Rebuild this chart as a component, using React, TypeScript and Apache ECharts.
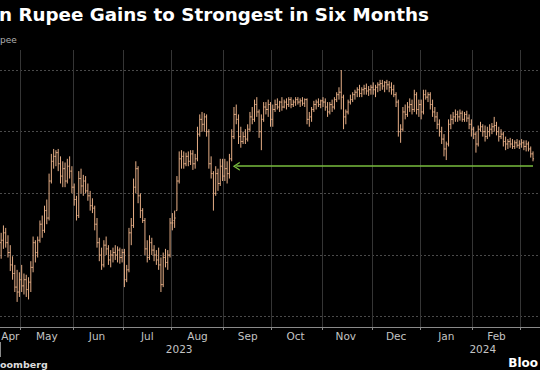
import React, { useEffect, useRef } from 'react';
import * as echarts from 'echarts';

// ---------- data ----------
const monthNames = ['Jan', 'Feb', 'Mar', 'Apr', 'May', 'Jun', 'Jul', 'Aug', 'Sep', 'Oct', 'Nov', 'Dec'];

// trading days shown per month
const aprDays = [18, 19, 20, 21, 24, 25, 26, 27, 28];
const mayDays = [1, 2, 3, 4, 5, 8, 9, 10, 11, 12, 15, 16, 17, 18, 19, 22, 23, 24, 25, 26, 29, 30, 31];
const junDays = [1, 2, 5, 6, 7, 8, 9, 12, 13, 14, 15, 16, 19, 20, 21, 22, 23, 26, 27, 28, 29, 30];
const julDays = [3, 4, 5, 6, 7, 10, 11, 12, 13, 14, 17, 18, 19, 20, 21, 24, 25, 26, 27, 28, 31];
const augDays = [1, 2, 3, 4, 7, 8, 9, 10, 11, 14, 15, 16, 17, 18, 21, 22, 23, 24, 25, 28, 29, 30, 31];
const sepDays = [1, 4, 5, 6, 7, 8, 11, 12, 13, 14, 15, 18, 19, 20, 21, 22, 25, 26, 27, 28, 29];
const octDays = [2, 3, 4, 5, 6, 9, 10, 11, 12, 13, 16, 17, 18, 19, 20, 23, 24, 25, 26, 27, 30, 31];
const novDays = [1, 2, 3, 6, 7, 8, 9, 10, 13, 14, 15, 16, 17, 20, 21, 22, 23, 24, 27, 28, 29, 30];
const decDays = [1, 4, 5, 6, 7, 8, 11, 12, 13, 14, 15, 18, 19, 20, 21, 22, 25, 26, 27, 28, 29];
const janDays = [1, 2, 3, 4, 5, 8, 9, 10, 11, 12, 15, 16, 17, 18, 19, 22, 23, 24, 25, 26, 29, 30, 31];
const febDays = [1, 2, 5, 6, 7, 8, 9, 12, 13, 14, 15, 16, 19, 20, 21, 22, 23, 26, 27, 28, 29];
const marDays = [1, 4, 5, 6, 7, 8, 11, 12, 13];

// USD/INR daily bars: [open, high, low, close]
const aprBars = [
  [82.10, 82.18, 81.97, 82.12], [82.12, 82.24, 82.05, 82.18], [82.18, 82.22, 82.06, 82.10],
  [82.10, 82.16, 81.98, 82.02], [82.02, 82.08, 81.87, 81.92], [81.92, 81.99, 81.80, 81.85],
  [81.85, 81.92, 81.70, 81.74], [81.74, 81.88, 81.62, 81.70], [81.70, 81.86, 81.66, 81.80],
];
const mayBars = [
  [81.80, 81.92, 81.70, 81.75], [81.75, 81.85, 81.68, 81.80], [81.80, 81.84, 81.66, 81.72],
  [81.72, 81.82, 81.64, 81.78], [81.78, 81.95, 81.70, 81.90], [81.90, 82.15, 81.86, 82.10],
  [82.10, 82.12, 81.94, 82.02], [82.02, 82.15, 81.98, 82.12], [82.12, 82.28, 82.10, 82.25],
  [82.25, 82.32, 82.14, 82.20], [82.20, 82.40, 82.18, 82.36], [82.36, 82.45, 82.25, 82.30],
  [82.30, 82.66, 82.28, 82.60], [82.60, 82.82, 82.58, 82.76], [82.76, 82.86, 82.70, 82.80],
  [82.80, 82.85, 82.72, 82.83], [82.83, 82.86, 82.68, 82.74], [82.74, 82.80, 82.58, 82.64],
  [82.64, 82.76, 82.55, 82.70], [82.70, 82.75, 82.55, 82.60], [82.60, 82.78, 82.58, 82.72],
  [82.72, 82.80, 82.62, 82.68], [82.68, 82.72, 82.50, 82.55],
];
const junBars = [
  [82.55, 82.58, 82.40, 82.45], [82.45, 82.48, 82.28, 82.32], [82.32, 82.68, 82.30, 82.62],
  [82.62, 82.70, 82.50, 82.56], [82.56, 82.65, 82.48, 82.60], [82.60, 82.64, 82.50, 82.52],
  [82.52, 82.58, 82.44, 82.48], [82.48, 82.52, 82.36, 82.40], [82.40, 82.46, 82.34, 82.38],
  [82.38, 82.40, 82.20, 82.25], [82.25, 82.30, 82.06, 82.10], [82.10, 82.14, 81.95, 82.00],
  [82.00, 82.06, 81.88, 81.92], [81.92, 82.12, 81.90, 82.08], [82.08, 82.15, 82.00, 82.05],
  [82.05, 82.08, 81.92, 81.96], [81.96, 82.04, 81.90, 82.00], [82.00, 82.06, 81.94, 82.02],
  [82.02, 82.08, 81.96, 82.00], [82.00, 82.07, 81.94, 82.04], [82.04, 82.06, 81.93, 81.98],
  [81.98, 82.05, 81.94, 82.02],
];
const julBars = [
  [82.02, 82.05, 81.74, 81.80], [81.80, 81.92, 81.78, 81.88], [81.88, 82.22, 81.86, 82.18],
  [82.18, 82.30, 82.08, 82.24], [82.24, 82.62, 82.22, 82.55], [82.55, 82.76, 82.50, 82.70],
  [82.70, 82.72, 82.42, 82.48], [82.48, 82.50, 82.30, 82.36], [82.36, 82.38, 82.26, 82.28],
  [82.28, 82.30, 82.00, 82.05], [82.05, 82.12, 81.94, 81.98], [81.98, 82.16, 81.96, 82.10],
  [82.10, 82.14, 82.00, 82.04], [82.04, 82.08, 81.95, 82.00], [82.00, 82.04, 81.92, 81.96],
  [81.96, 82.06, 81.88, 81.92], [81.92, 81.98, 81.70, 81.76], [81.76, 82.02, 81.74, 81.98],
  [81.98, 82.05, 81.90, 81.94], [81.94, 82.04, 81.88, 82.00], [82.00, 82.30, 81.98, 82.26],
];
const augBars = [
  [82.26, 82.34, 82.20, 82.26], [82.28, 82.36, 82.22, 82.30], [82.36, 82.64, 82.36, 82.60],
  [82.60, 82.84, 82.58, 82.78], [82.78, 82.85, 82.70, 82.80], [82.80, 82.84, 82.70, 82.74],
  [82.74, 82.83, 82.72, 82.80], [82.80, 82.84, 82.72, 82.76], [82.76, 82.85, 82.73, 82.82],
  [82.82, 82.85, 82.69, 82.74], [82.74, 82.82, 82.70, 82.78], [82.78, 83.04, 82.76, 82.98],
  [82.98, 83.14, 82.96, 83.10], [83.10, 83.16, 83.00, 83.06], [83.06, 83.15, 83.00, 83.12],
  [83.12, 83.14, 82.96, 83.00], [83.00, 83.02, 82.70, 82.74], [82.74, 82.80, 82.62, 82.66],
  [82.66, 82.68, 82.36, 82.50], [82.50, 82.72, 82.48, 82.66], [82.66, 82.70, 82.52, 82.58],
  [82.58, 82.78, 82.56, 82.72], [82.72, 82.78, 82.60, 82.64],
];
const sepBars = [
  [82.64, 82.78, 82.60, 82.70], [82.70, 82.76, 82.58, 82.66], [82.66, 82.82, 82.62, 82.78],
  [82.78, 83.02, 82.76, 82.96], [82.96, 83.20, 82.94, 83.14], [83.14, 83.22, 83.06, 83.10],
  [83.10, 83.14, 82.90, 82.96], [82.96, 83.04, 82.87, 82.92], [82.92, 83.00, 82.90, 82.96],
  [82.96, 83.02, 82.90, 82.94], [82.94, 83.06, 82.92, 83.02], [83.02, 83.16, 83.00, 83.12],
  [83.12, 83.20, 83.06, 83.10], [83.10, 83.26, 83.08, 83.22], [83.22, 83.28, 83.12, 83.16],
  [83.16, 83.18, 82.95, 83.00], [83.00, 83.14, 82.85, 83.10], [83.10, 83.24, 83.08, 83.20],
  [83.20, 83.24, 83.14, 83.18], [83.18, 83.26, 83.12, 83.22], [83.22, 83.24, 83.04, 83.10],
];
const octBars = [
  [83.10, 83.22, 83.04, 83.18], [83.18, 83.26, 83.16, 83.22], [83.22, 83.27, 83.18, 83.20],
  [83.20, 83.25, 83.16, 83.24], [83.24, 83.28, 83.17, 83.20], [83.20, 83.26, 83.19, 83.24],
  [83.24, 83.27, 83.18, 83.22], [83.22, 83.28, 83.20, 83.26], [83.26, 83.28, 83.19, 83.22],
  [83.22, 83.26, 83.20, 83.24], [83.24, 83.28, 83.21, 83.26], [83.26, 83.28, 83.22, 83.24],
  [83.24, 83.27, 83.20, 83.25], [83.25, 83.28, 83.21, 83.23], [83.23, 83.27, 83.20, 83.26],
  [83.26, 83.27, 83.06, 83.10], [83.10, 83.16, 83.04, 83.12], [83.12, 83.20, 83.08, 83.18],
  [83.18, 83.25, 83.16, 83.22], [83.22, 83.26, 83.18, 83.24], [83.24, 83.27, 83.20, 83.22],
  [83.22, 83.26, 83.19, 83.25],
];
const novBars = [
  [83.25, 83.28, 83.20, 83.24], [83.24, 83.27, 83.17, 83.20], [83.20, 83.24, 83.12, 83.16],
  [83.16, 83.24, 83.14, 83.22], [83.22, 83.26, 83.16, 83.20], [83.20, 83.28, 83.18, 83.26],
  [83.26, 83.32, 83.24, 83.30], [83.30, 83.36, 83.26, 83.32], [83.32, 83.50, 83.18, 83.28],
  [83.28, 83.30, 83.02, 83.12], [83.12, 83.18, 83.06, 83.16], [83.16, 83.26, 83.14, 83.24],
  [83.24, 83.30, 83.22, 83.26], [83.26, 83.32, 83.24, 83.30], [83.30, 83.34, 83.26, 83.32],
  [83.32, 83.36, 83.28, 83.34], [83.34, 83.38, 83.28, 83.31], [83.31, 83.36, 83.28, 83.34],
  [83.34, 83.38, 83.30, 83.35], [83.35, 83.39, 83.30, 83.33], [83.33, 83.37, 83.29, 83.34],
  [83.34, 83.38, 83.30, 83.36],
];
const decBars = [
  [83.36, 83.40, 83.30, 83.34], [83.34, 83.38, 83.28, 83.36], [83.36, 83.40, 83.32, 83.38],
  [83.38, 83.42, 83.33, 83.39], [83.39, 83.42, 83.34, 83.37], [83.37, 83.41, 83.32, 83.40],
  [83.40, 83.42, 83.34, 83.38], [83.38, 83.41, 83.32, 83.36], [83.36, 83.40, 83.30, 83.34],
  [83.34, 83.38, 83.28, 83.30], [83.30, 83.32, 83.20, 83.24], [83.24, 83.26, 82.96, 83.00],
  [83.00, 83.06, 82.91, 83.02], [83.02, 83.20, 83.00, 83.16], [83.16, 83.22, 83.10, 83.14],
  [83.14, 83.24, 83.12, 83.20], [83.20, 83.27, 83.16, 83.22], [83.22, 83.26, 83.14, 83.18],
  [83.18, 83.34, 83.16, 83.30], [83.30, 83.32, 83.14, 83.18], [83.18, 83.26, 83.12, 83.22],
];
const janBars = [
  [83.22, 83.26, 83.10, 83.16], [83.16, 83.34, 83.14, 83.30], [83.30, 83.34, 83.26, 83.28],
  [83.28, 83.32, 83.24, 83.30], [83.30, 83.32, 83.18, 83.22], [83.22, 83.26, 83.12, 83.16],
  [83.16, 83.20, 83.08, 83.12], [83.12, 83.16, 83.02, 83.06], [83.06, 83.10, 82.96, 83.00],
  [83.00, 83.04, 82.90, 82.94], [82.94, 82.98, 82.80, 82.86], [82.86, 82.92, 82.77, 82.90],
  [82.90, 83.10, 82.88, 83.06], [83.06, 83.14, 83.02, 83.10], [83.10, 83.16, 83.06, 83.12],
  [83.12, 83.18, 83.08, 83.14], [83.14, 83.17, 83.08, 83.12], [83.12, 83.18, 83.09, 83.15],
  [83.15, 83.17, 83.08, 83.10], [83.10, 83.16, 83.08, 83.14], [83.14, 83.17, 83.08, 83.11],
  [83.11, 83.14, 83.02, 83.06], [83.06, 83.10, 82.96, 83.02],
];
const febBars = [
  [83.02, 83.04, 82.94, 82.98], [82.98, 83.00, 82.83, 82.90], [82.90, 83.05, 82.88, 83.02],
  [83.02, 83.08, 83.00, 83.04], [83.04, 83.06, 82.96, 83.00], [83.00, 83.05, 82.92, 82.96],
  [82.96, 83.04, 82.94, 83.00], [83.00, 83.06, 82.96, 83.02], [83.02, 83.07, 82.98, 83.04],
  [83.04, 83.12, 83.00, 83.05], [83.05, 83.08, 82.97, 83.00], [83.00, 83.04, 82.92, 82.96],
  [82.96, 83.02, 82.94, 82.98], [82.98, 83.00, 82.88, 82.92], [82.92, 82.96, 82.85, 82.90],
  [82.90, 82.94, 82.86, 82.92], [82.92, 82.95, 82.87, 82.90], [82.90, 82.94, 82.86, 82.88],
  [82.88, 82.93, 82.86, 82.91], [82.91, 82.94, 82.87, 82.89], [82.89, 82.93, 82.86, 82.90],
];
const marBars = [
  [82.90, 82.94, 82.87, 82.91], [82.91, 82.93, 82.85, 82.88], [82.88, 82.93, 82.84, 82.90],
  [82.90, 82.92, 82.84, 82.86], [82.86, 82.88, 82.79, 82.82], [82.82, 82.84, 82.76, 82.78],
];

// arrow: level of the latest bar, pointing back to early September
const arrowLevel = 82.72;
const arrowFrom = '2024-03-08';
const arrowTo = '2023-09-08';

const yearLabels = [
  { at: '2023-08-04', text: '2023' },
  { at: '2024-02-07', text: '2024' },
];
const yearBreak = '2024-01-01';
const aprLabelDay = '2023-04-24';

const months = [
  { ym: '2023-04', days: aprDays, bars: aprBars, label: 'fixed' },
  { ym: '2023-05', days: mayDays, bars: mayBars, label: 'mid' },
  { ym: '2023-06', days: junDays, bars: junBars, label: 'mid' },
  { ym: '2023-07', days: julDays, bars: julBars, label: 'mid' },
  { ym: '2023-08', days: augDays, bars: augBars, label: 'mid' },
  { ym: '2023-09', days: sepDays, bars: sepBars, label: 'mid' },
  { ym: '2023-10', days: octDays, bars: octBars, label: 'mid' },
  { ym: '2023-11', days: novDays, bars: novBars, label: 'mid' },
  { ym: '2023-12', days: decDays, bars: decBars, label: 'mid' },
  { ym: '2024-01', days: janDays, bars: janBars, label: 'mid' },
  { ym: '2024-02', days: febDays, bars: febBars, label: 'mid' },
  { ym: '2024-03', days: marDays, bars: marBars, label: 'none' },
];

const categories: string[] = [];
const barData: number[][] = [];
const monthStarts = new Set<number>();
const monthLabelIdx = new Set<number>();
months.forEach((m, mi) => {
  const start = categories.length;
  if (mi > 0) monthStarts.add(start);
  if (m.label === 'mid') monthLabelIdx.add(start + Math.floor((m.days.length - 1) / 2));
  m.days.forEach((d, k) => {
    const idx = categories.length;
    categories.push(`${m.ym}-${String(d).padStart(2, '0')}`);
    const b = m.bars[k];
    if (b) barData.push([idx, b[0], b[1], b[2], b[3]]);
  });
});
monthLabelIdx.add(categories.indexOf(aprLabelDay));
const yearLabelIdx = new Set(yearLabels.map((y) => categories.indexOf(y.at)));
const yearBreakIdx = categories.indexOf(yearBreak);

const barColor = '#e6ae86';
const green = '#79bd3e';
const labelFont = 'DejaVu Sans';

export default function App() {
  const ref = useRef<HTMLDivElement>(null);
  useEffect(() => {
    if (!ref.current) return;
    const chart = echarts.init(ref.current, null, { renderer: 'svg' });
    const option: any = {
      animation: false,
      backgroundColor: '#000',
      grid: {
        left: 0,
        top: 50,
        width: 541,
        height: 277,
        containLabel: false,
        outerBoundsMode: 'none',
      },
      xAxis: [
        {
          type: 'category',
          data: categories,
          boundaryGap: true,
          axisLine: { show: true, lineStyle: { color: '#8a8a8a', width: 1 } },
          axisTick: {
            show: true,
            length: 3,
            interval: (i: number) => monthStarts.has(i),
            lineStyle: { color: '#8a8a8a' },
          },
          axisLabel: {
            interval: (i: number) => monthLabelIdx.has(i),
            formatter: (v: string) => monthNames[parseInt(v.slice(5, 7), 10) - 1],
            color: '#c4c4c4',
            fontFamily: labelFont,
            fontSize: 10.5,
            margin: 3,
          },
          splitLine: {
            show: true,
            interval: (i: number) => monthStarts.has(i),
            lineStyle: { color: '#353535', width: 1 },
          },
        },
        {
          type: 'category',
          data: categories,
          boundaryGap: true,
          position: 'bottom',
          offset: 15,
          axisLine: { show: false },
          axisTick: {
            show: true,
            length: 15,
            interval: (i: number) => i === yearBreakIdx,
            lineStyle: { color: '#8a8a8a' },
          },
          axisLabel: {
            interval: (i: number) => yearLabelIdx.has(i),
            formatter: (v: string) => v.slice(0, 4),
            color: '#c4c4c4',
            fontFamily: labelFont,
            fontSize: 10.5,
            margin: 1,
          },
          splitLine: { show: false },
        },
      ],
      yAxis: {
        type: 'value',
        min: 81.4165,
        max: 83.6622,
        splitNumber: 5,
        axisLine: { show: false },
        axisTick: { show: false },
        axisLabel: { show: false },
        splitLine: {
          show: true,
          showMinLine: false,
          showMaxLine: false,
          lineStyle: { color: '#4a4a4a', type: [2, 2], width: 1 },
        },
      },
      graphic: [
        {
          type: 'text',
          x: -1,
          y: 14,
          style: {
            text: 'n Rupee Gains to Strongest in Six Months',
            fill: '#ffffff',
            fontFamily: 'DejaVu Sans',
            fontWeight: 'bold',
            fontSize: 18.3,
            verticalAlign: 'middle',
          },
        },
        {
          type: 'text',
          x: 0,
          y: 40,
          style: {
            text: 'pee',
            fill: '#b0b0b0',
            fontFamily: 'DejaVu Sans',
            fontSize: 9,
            verticalAlign: 'middle',
          },
        },
        {
          type: 'text',
          x: 0,
          y: 364,
          style: {
            text: 'oomberg',
            fill: '#dcdcdc',
            fontFamily: 'DejaVu Sans',
            fontWeight: 'bold',
            fontSize: 9.5,
            verticalAlign: 'middle',
          },
        },
        {
          type: 'text',
          x: 538,
          y: 363,
          style: {
            text: 'Bloo',
            fill: '#ffffff',
            fontFamily: 'DejaVu Sans',
            fontWeight: 'bold',
            fontSize: 12,
            align: 'right',
            verticalAlign: 'middle',
          },
        },
      ],
      series: [
        {
          type: 'custom',
          xAxisIndex: 0,
          yAxisIndex: 0,
          data: barData,
          encode: { x: 0, y: [1, 2, 3, 4] },
          silent: true,
          renderItem: (params: any, api: any) => {
            const i = api.value(0);
            const pO = api.coord([i, api.value(1)]);
            const pH = api.coord([i, api.value(2)]);
            const pL = api.coord([i, api.value(3)]);
            const pC = api.coord([i, api.value(4)]);
            const bw = api.size([1, 0])[0];
            const t = Math.max(1, bw * 0.45);
            const x = pO[0];
            const style = { stroke: barColor, lineWidth: 1 };
            return {
              type: 'group',
              children: [
                { type: 'line', shape: { x1: x, y1: pH[1], x2: x, y2: pL[1] }, style },
                { type: 'line', shape: { x1: x - t, y1: pO[1], x2: x, y2: pO[1] }, style },
                { type: 'line', shape: { x1: x, y1: pC[1], x2: x + t, y2: pC[1] }, style },
              ],
            };
          },
          markLine: {
            silent: true,
            animation: false,
            symbol: ['none', 'path://M5,0 L10,9 L8.3,9 L5,3 L1.7,9 L0,9 Z'],
            symbolSize: [9, 7],
            label: { show: false },
            lineStyle: { color: green, width: 1.6, type: 'solid' },
            emphasis: { disabled: true },
            data: [
              [
                { xAxis: arrowFrom, yAxis: arrowLevel },
                { xAxis: arrowTo, yAxis: arrowLevel },
              ],
            ],
          },
        },
      ],
    };
    chart.setOption(option);
    return () => chart.dispose();
  }, []);
  return (
    <div
      ref={ref}
      style={{ position: 'absolute', left: 0, top: 0, width: 540, height: 370, background: '#000' }}
    />
  );
}
